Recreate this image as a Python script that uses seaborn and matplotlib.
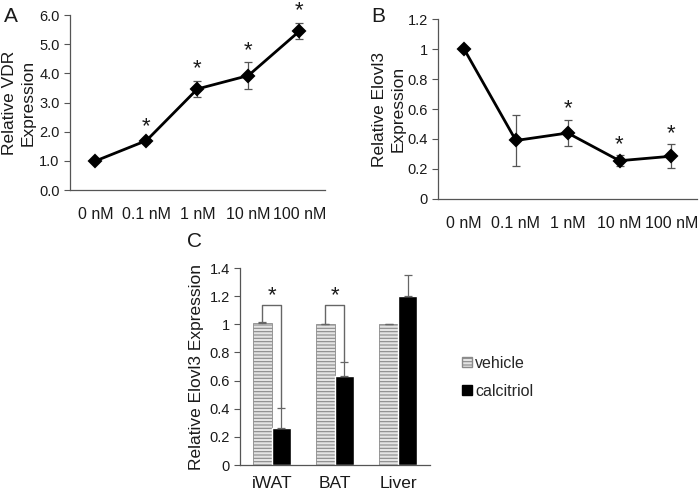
import numpy as np
import pandas as pd
import matplotlib
matplotlib.use("Agg")
import matplotlib.pyplot as plt
import seaborn as sns
from matplotlib.patches import Patch

# --- data ---
doses = ["0 nM", "0.1 nM", "1 nM", "10 nM", "100 nM"]
vdr_mean = [1.0, 1.7, 3.47, 3.93, 5.45]
vdr_err = [0.03, 0.07, 0.28, 0.45, 0.28]
vdr_sig = [False, True, True, True, True]

elovl_mean = [1.0, 0.39, 0.44, 0.255, 0.285]
elovl_err = [0.0, 0.17, 0.09, 0.035, 0.08]
elovl_sig = [False, False, True, True, True]

tissues = ["iWAT", "BAT", "Liver"]
vehicle_mean = [1.01, 1.0, 1.0]
vehicle_err = [0.005, 0.005, 0.0]
calcitriol_mean = [0.26, 0.63, 1.2]
calcitriol_err = [0.145, 0.1, 0.15]
tissue_sig = [True, True, False]

sns.set_style("white")
plt.rcParams["font.family"] = ["Liberation Sans", "DejaVu Sans"]
ink = "#1a1a1a"

fig = plt.figure(figsize=(7, 4.9), dpi=100)


def style_axis(ax, labels, ymin, ymax, step, fmt):
    ax.set_xlim(-0.5, len(labels) - 0.5)
    ax.set_ylim(ymin, ymax)
    ax.set_yticks(np.arange(ymin, ymax + step / 2, step))
    ax.set_yticklabels([fmt(v) for v in np.arange(ymin, ymax + step / 2, step)])
    # Excel style: tick marks between categories, labels centred
    ax.set_xticks(np.arange(-0.5, len(labels), 1.0))
    ax.set_xticklabels([])
    ax.set_xticks(np.arange(len(labels)), minor=True)
    ax.set_xticklabels(labels, minor=True, fontsize=11.5, color=ink)
    ax.tick_params(axis="x", which="major", length=4, direction="out", color="#555555")
    ax.tick_params(axis="x", which="minor", length=0, pad=12)
    ax.tick_params(axis="y", length=4, direction="out", color="#555555",
                   labelsize=10.5, labelcolor=ink, left=True)
    for s in ["top", "right"]:
        ax.spines[s].set_visible(False)
    for s in ["left", "bottom"]:
        ax.spines[s].set_color("#555555")
        ax.spines[s].set_linewidth(0.9)
    ax.set_xlabel("")


def line_panel(ax, means, errs, sig, star_gap):
    df = pd.DataFrame({"dose": doses, "value": means})
    sns.pointplot(data=df, x="dose", y="value", ax=ax, color="black",
                  markers="D", markersize=6, linewidth=2, errorbar=None)
    ax.errorbar(np.arange(len(doses)), means, yerr=errs, fmt="none",
                ecolor="#555555", elinewidth=0.9, capsize=3, capthick=0.9, zorder=1)
    for i, (m, e, s) in enumerate(zip(means, errs, sig)):
        if s:
            ax.text(i, m + e + star_gap, "*", ha="center", va="bottom",
                    fontsize=16, color=ink)


# --- panel A ---
axA = fig.add_axes([0.10, 0.612, 0.364, 0.357])
line_panel(axA, vdr_mean, vdr_err, vdr_sig, 0.05)
style_axis(axA, doses, 0, 6, 1, lambda v: f"{v:.1f}")
axA.set_ylabel("Relative VDR\nExpression", fontsize=12.5, color=ink, linespacing=1.3)
axA.yaxis.set_label_coords(-0.135, 0.5)
fig.text(0.005, 0.955, "A", fontsize=15, color=ink)

# --- panel B ---
axB = fig.add_axes([0.626, 0.594, 0.37, 0.367])
line_panel(axB, elovl_mean, elovl_err, elovl_sig, 0.0)
style_axis(axB, doses, 0, 1.2, 0.2, lambda v: f"{v:g}")
axB.set_ylabel("Relative Elovl3\nExpression", fontsize=12.5, color=ink, linespacing=1.3)
axB.yaxis.set_label_coords(-0.125, 0.5)
fig.text(0.53, 0.955, "B", fontsize=15, color=ink)

# --- panel C ---
axC = fig.add_axes([0.343, 0.051, 0.271, 0.402])
bars = pd.DataFrame({
    "tissue": tissues * 2,
    "group": ["vehicle"] * 3 + ["calcitriol"] * 3,
    "value": vehicle_mean + calcitriol_mean,
})
plt.rcParams["hatch.color"] = "#9a9a9a"
plt.rcParams["hatch.linewidth"] = 0.8
sns.barplot(data=bars, x="tissue", y="value", hue="group", ax=axC,
            palette={"vehicle": "#e4e4e4", "calcitriol": "black"},
            width=0.6, errorbar=None, legend=False, saturation=1)
w = 0.3
x = np.arange(len(tissues))
for p in axC.patches[:3]:
    p.set_hatch("-----")
    p.set_edgecolor("#8a8a8a")
    p.set_linewidth(0.6)
axC.errorbar(x - w / 2, vehicle_mean, yerr=[[0] * 3, vehicle_err], fmt="none",
             ecolor="#666666", elinewidth=0.9, capsize=3, capthick=0.9)
axC.errorbar(x + w / 2, calcitriol_mean, yerr=[[0] * 3, calcitriol_err], fmt="none",
             ecolor="#666666", elinewidth=0.9, capsize=3, capthick=0.9)
for i, s in enumerate(tissue_sig):
    if s:
        top = 1.14
        axC.plot([i - w / 2, i - w / 2, i + w / 2, i + w / 2],
                 [vehicle_mean[i], top, top, calcitriol_mean[i] + calcitriol_err[i]],
                 color="#666666", lw=1.0)
        axC.text(i, top - 0.01, "*", ha="center", va="bottom", fontsize=16, color=ink)
style_axis(axC, tissues, 0, 1.4, 0.2, lambda v: f"{v:g}")
axC.tick_params(axis="x", which="minor", pad=8, labelsize=12.5)
axC.set_ylabel("Relative Elovl3 Expression", fontsize=12.5, color=ink)
axC.yaxis.set_label_coords(-0.19, 0.5)
fig.text(0.267, 0.495, "C", fontsize=15, color=ink)

handles = [Patch(facecolor="#e4e4e4", edgecolor="#8a8a8a", hatch="-----", label="vehicle"),
           Patch(facecolor="black", edgecolor="black", label="calcitriol")]
fig.legend(handles=handles, loc="center left", bbox_to_anchor=(0.64, 0.23),
           frameon=False, fontsize=11.5, handlelength=0.6, handleheight=0.6,
           handletextpad=0.2, labelspacing=0.8)

fig.savefig("out.png", dpi=100)
